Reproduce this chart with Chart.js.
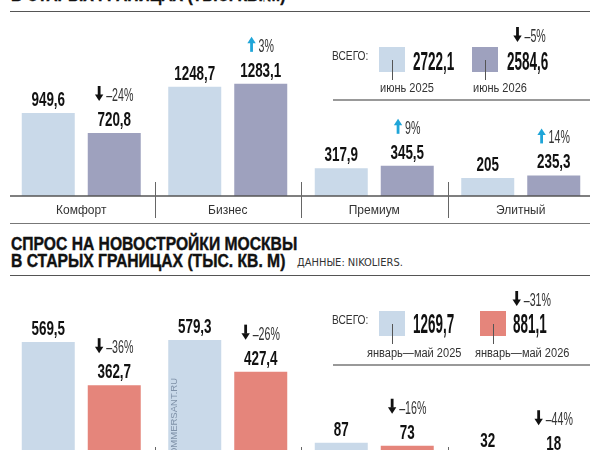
<!DOCTYPE html>
<html>
<head>
<meta charset="utf-8">
<script src="https://cdn.jsdelivr.net/npm/chart.js@4.4.1/dist/chart.umd.min.js"></script>
<style>
html, body { margin: 0; padding: 0; width: 600px; height: 450px; overflow: hidden; background: #fff; }
body { position: relative; font-family: "Liberation Sans", Arial, sans-serif; color: #222; }
.abs { position: absolute; white-space: nowrap; }
.rule { position: absolute; height: 0; border-top: 1.5px solid #555; }
.title { font-size: 18px; line-height: 16px; font-weight: bold; color: #111; transform: scaleX(0.87); transform-origin: left top; -webkit-text-stroke: 0.4px #111; }
.src { font-family: "DejaVu Sans Condensed", sans-serif; font-size: 11px; line-height: 12px; color: #333; }
canvas { position: absolute; left: 0; }
</style>
</head>
<body>
<div class="abs title" style="left:11px;top:-13px">В СТАРЫХ ГРАНИЦАХ (ТЫС. КВ. М)</div>
<div class="abs src" style="left:263px;top:-9px">ДАННЫЕ: NIKOLIERS.</div>
<div class="rule" style="left:10px;top:11px;width:580px"></div>

<canvas id="supplyChart" width="600" height="230" style="top:0"></canvas>
<div class="rule" style="left:10px;top:223px;width:580px;border-color:#777"></div>

<div class="abs title" style="left:11px;top:236px">СПРОС НА НОВОСТРОЙКИ МОСКВЫ</div>
<div class="abs title" style="left:11px;top:253px">В СТАРЫХ ГРАНИЦАХ (ТЫС. КВ. М)</div>
<div class="abs src" style="left:297px;top:257px">ДАННЫЕ: NIKOLIERS.</div>
<div class="rule" style="left:10px;top:275px;width:580px"></div>

<canvas id="demandChart" width="600" height="280" style="top:230px"></canvas>

<script>
// Data
const categories = ['Комфорт', 'Бизнес', 'Премиум', 'Элитный'];

const supply2025 = [949.6, 1248.7, 317.9, 205];
const supply2026 = [720.8, 1283.1, 345.5, 235.3];
const supplyChange = [-24, 3, 9, 14];
const supplyTotals = [2722.1, 2584.6];
const supplyTotalChange = -5;
const supplyPeriods = ['июнь 2025', 'июнь 2026'];

const demand2025 = [569.5, 579.3, 87, 32];
const demand2026 = [362.7, 427.4, 73, 18];
const demandChange = [-36, -26, -16, -44];
const demandTotals = [1269.7, 881.1];
const demandTotalChange = -31;
const demandPeriods = ['январь—май 2025', 'январь—май 2026'];

const LIGHT = '#c9d9e9';
const PURPLE = '#9ea1be';
const RED = '#e5857b';
const CYAN = '#1fa5d8';
const SANS = '"Liberation Sans", Arial, sans-serif';

function fmt(v) { return String(v).replace('.', ','); }
function pct(v) { return (v < 0 ? '–' + Math.abs(v) : String(v)) + '%'; }

// text squeezed horizontally, like the condensed newspaper font
function squeezeText(ctx, str, x, y, font, color, sx, align) {
    ctx.save();
    ctx.font = font;
    ctx.fillStyle = color;
    ctx.textAlign = 'left';
    ctx.textBaseline = 'alphabetic';
    const w = ctx.measureText(str).width * sx;
    let left = x;
    if (align === 'center') left = x - w / 2;
    else if (align === 'right') left = x - w;
    ctx.translate(left, y);
    ctx.scale(sx, 1);
    ctx.fillText(str, 0, 0);
    ctx.restore();
    return w;
}

function arrow(ctx, x, yTop, h, up, color) {
    const head = 6;
    ctx.save();
    ctx.strokeStyle = color;
    ctx.fillStyle = color;
    ctx.lineWidth = 2.8;
    ctx.beginPath();
    if (up) { ctx.moveTo(x, yTop + h); ctx.lineTo(x, yTop + head); }
    else { ctx.moveTo(x, yTop); ctx.lineTo(x, yTop + h - head); }
    ctx.stroke();
    ctx.beginPath();
    if (up) {
        ctx.moveTo(x - 4.2, yTop + head + 0.5); ctx.lineTo(x + 4.2, yTop + head + 0.5); ctx.lineTo(x, yTop);
    } else {
        ctx.moveTo(x - 4.2, yTop + h - head - 0.5); ctx.lineTo(x + 4.2, yTop + h - head - 0.5); ctx.lineTo(x, yTop + h);
    }
    ctx.closePath();
    ctx.fill();
    ctx.restore();
}

function changeLabel(ctx, v, cx, baseline) {
    const up = v > 0;
    const font = '19px ' + SANS;
    const sx = 0.56;
    ctx.font = font;
    const tw = ctx.measureText(pct(v)).width * sx;
    const aw = 8, gap = 3;
    const left = cx - (aw + gap + tw) / 2;
    arrow(ctx, left + aw / 2, baseline - 15, 15, up, up ? CYAN : '#111');
    squeezeText(ctx, pct(v), left + aw + gap, baseline, font, '#333', sx, 'left');
}

function drawLegend(ctx, L) {
    const y0 = L.top - L.oy;   // square top inside this canvas
    squeezeText(ctx, 'ВСЕГО:', 332, y0 + 13, '12px ' + SANS, '#333', 0.85, 'left');
    const colors = [LIGHT, L.color];
    for (let i = 0; i < 2; i++) {
        ctx.fillStyle = colors[i];
        ctx.fillRect(L.squareX[i], y0, 26, 25);
        const mx = Math.round(L.squareX[i] + 13) + 0.5;
        ctx.strokeStyle = '#555';
        ctx.lineWidth = 1;
        ctx.beginPath();
        ctx.moveTo(mx, y0 + 13);
        ctx.lineTo(mx, y0 + 33);
        ctx.stroke();
        const w = squeezeText(ctx, fmt(L.totals[i]), L.valueX[i], y0 + L.valueBase, 'bold ' + L.valueFont + 'px ' + SANS, '#111', L.valueSx, 'left');
        if (i === 1) changeLabel(ctx, L.change, L.valueX[i] + w / 2 + 2, y0 - 5);
        squeezeText(ctx, L.periods[i], L.periodX[i], y0 + L.periodBase, '12px ' + SANS, '#333', 0.92, 'left');
    }
    ctx.strokeStyle = '#777';
    ctx.lineWidth = 1.5;
    ctx.beginPath();
    ctx.moveTo(333, L.rule - L.oy);
    ctx.lineTo(590, L.rule - L.oy);
    ctx.stroke();
}

function makeOverlay(changes, legend, watermark) {
    return {
        id: 'overlay',
        afterDatasetsDraw(chart) {
            const ctx = chart.ctx;
            const xs = chart.scales.x;
            const base = chart.chartArea.bottom;
            ctx.save();
            ctx.strokeStyle = '#555';
            ctx.lineWidth = 1.5;
            ctx.beginPath();
            ctx.moveTo(10, base);
            ctx.lineTo(590, base);
            ctx.stroke();
            ctx.lineWidth = 1;
            ctx.strokeStyle = '#666';
            for (let i = 0; i < categories.length - 1; i++) {
                const sx = Math.round((xs.getPixelForValue(i) + xs.getPixelForValue(i + 1)) / 2) + 0.5;
                ctx.beginPath();
                ctx.moveTo(sx, base - 14);
                ctx.lineTo(sx, base + 22);
                ctx.stroke();
            }
            ctx.restore();

            if (watermark) {
                ctx.save();
                ctx.translate(177, 378 - legend.oy);
                ctx.rotate(-Math.PI / 2);
                ctx.font = '9.5px ' + SANS;
                ctx.fillStyle = '#7f91a8';
                ctx.textAlign = 'right';
                ctx.fillText(watermark, 0, 0);
                ctx.restore();
            }

            chart.data.datasets.forEach((ds, di) => {
                chart.getDatasetMeta(di).data.forEach((bar, i) => {
                    squeezeText(ctx, fmt(ds.data[i]), bar.x, bar.y - 7, 'bold 21px ' + SANS, '#111', 0.64, 'center');
                    if (di === 1) changeLabel(ctx, changes[i], bar.x, bar.y - 32);
                });
            });
            drawLegend(ctx, legend);
        }
    };
}

function makeChart(id, first, second, color, max, padding, overlay) {
    return new Chart(document.getElementById(id), {
        type: 'bar',
        data: {
            labels: categories,
            datasets: [
                { data: first, backgroundColor: LIGHT, categoryPercentage: 0.901, barPercentage: 0.803 },
                { data: second, backgroundColor: color, categoryPercentage: 0.901, barPercentage: 0.803 }
            ]
        },
        options: {
            responsive: false,
            animation: false,
            devicePixelRatio: 1,
            layout: { padding: padding },
            plugins: { legend: { display: false }, tooltip: { enabled: false } },
            scales: {
                x: {
                    grid: { display: false, drawTicks: false },
                    border: { display: false },
                    ticks: { color: '#333', font: { family: SANS, size: 12 }, padding: 7, maxRotation: 0, autoSkip: false }
                },
                y: { display: false, min: 0, max: max }
            }
        },
        plugins: [overlay]
    });
}

makeChart('supplyChart', supply2025, supply2026, PURPLE, 2082,
    { top: 14, bottom: 5.6, left: 8, right: 6 },
    makeOverlay(supplyChange, {
        oy: 0, top: 47, rule: 100, color: PURPLE,
        totals: supplyTotals, change: supplyTotalChange, periods: supplyPeriods,
        squareX: [379, 472], valueX: [413, 507], periodX: [380, 473],
        valueFont: 25, valueSx: 0.54, valueBase: 23, periodBase: 45
    }, null));

makeChart('demandChart', demand2025, demand2026, RED, 837,
    { top: 56, bottom: 20.6, left: 8, right: 6 },
    makeOverlay(demandChange, {
        oy: 230, top: 311, rule: 365, color: RED,
        totals: demandTotals, change: demandTotalChange, periods: demandPeriods,
        squareX: [379, 480], valueX: [413, 513], periodX: [367, 475],
        valueFont: 28, valueSx: 0.48, valueBase: 22, periodBase: 46
    }, 'KOMMERSANT.RU'));
</script>
</body>
</html>
